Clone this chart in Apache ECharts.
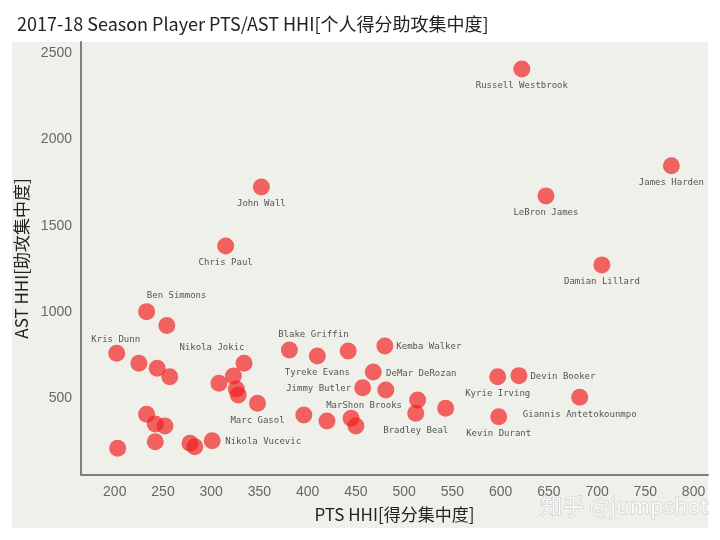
<!DOCTYPE html>
<html>
<head>
<meta charset="utf-8">
<script src="https://cdn.jsdelivr.net/npm/echarts@6/dist/echarts.min.js"></script>
<style>html,body{margin:0;padding:0;background:#fff;}#c{width:720px;height:540px;}</style>
</head>
<body>
<div id="c"></div>
<script>
// ---- data ----
var players = ['Russell Westbrook','James Harden','LeBron James','John Wall','Chris Paul','Damian Lillard',
  'Ben Simmons','','Kris Dunn','','','','Nikola Jokic','','','','','Marc Gasol','','','','','','','',
  'Nikola Vucevic','Blake Griffin','Tyreke Evans','','Kemba Walker','DeMar DeRozan','Jimmy Butler','','',
  'Bradley Beal','','','','MarShon Brooks','','Kyrie Irving','Devin Booker','Kevin Durant','Giannis Antetokounmpo'];
var ptsHHI = [622,777,647,352,315,705,
  233,254,202,225,244,257,334,323,308,326,328,348,233,242,252,242,203,278,283,
  301,381,410,442,480,468,457,481,514,
  512,543,396,420,445,450,597,619,598,682];
var astHHI = [2409,1847,1673,1725,1383,1273,
  1002,921,761,703,674,625,703,629,587,554,519,471,407,351,339,248,210,239,219,
  254,780,745,774,803,652,561,548,490,
  413,442,403,368,384,339,625,631,393,506];
var titleText = '2017-18 Season Player PTS/AST HHI[个人得分助攻集中度]';
var xName = 'PTS HHI[得分集中度]';
var yName = 'AST HHI[助攻集中度]';

// ---- label placement (style) ----
var labelOffset = {
  'Ben Simmons':[30,-16], 'Kris Dunn':[-1,-14], 'Nikola Jokic':[-32,-16], 'Nikola Vucevic':[51,1],
  'Blake Griffin':[24,-15], 'Jimmy Butler':[-44,1], 'MarShon Brooks':[13,-13], 'Kemba Walker':[44,1],
  'DeMar DeRozan':[48,2], 'Devin Booker':[44,1]
};

var data = players.map(function(n,i){
  return {
    name: n,
    value: [ptsHHI[i], astHHI[i]],
    label: { show: n !== '', offset: labelOffset[n] || [0,17] }
  };
});

var chart = echarts.init(document.getElementById('c'), null, {renderer:'canvas'});
chart.setOption({
  animation: false,
  backgroundColor: '#ffffff',
  graphic: [
    { type:'rect', z:-10, silent:true, shape:{x:12,y:42,width:696,height:486}, style:{fill:'#f0f0eb'} },
    { type:'text', z:100, silent:true, left:540, top:494,
      style:{ text:'知乎 @jumpshot', font:'22px "Noto Sans CJK SC"', fill:'rgba(255,255,255,0.85)', stroke:'#c4c4c4', lineWidth:1 } }
  ],
  title: {
    left: 12, top: 10,
    text: titleText,
    textStyle: { fontFamily:'"Noto Sans CJK SC"', fontSize:18, fontWeight:'normal', color:'#222' }
  },
  grid: { left:81, right:12, top:42, bottom:65, containLabel:false },
  xAxis: {
    type:'value', min:165, max:815, splitNumber:13,
    axisLine:{ show:true, lineStyle:{ color:'#7f7f7f', width:2 } },
    axisTick:{ show:false }, splitLine:{ show:false },
    axisLabel:{ color:'#666', fontSize:14, fontFamily:'"Liberation Sans"', margin:10, showMinLabel:false, showMaxLabel:false,
      formatter:function(v){ return String(v); } },
    name: xName, nameLocation:'middle', nameGap:31,
    nameTextStyle:{ color:'#222', fontSize:17, fontFamily:'"Noto Sans CJK SC"' }
  },
  yAxis: {
    type:'value', min:55, max:2565, splitNumber:5,
    axisLine:{ show:true, lineStyle:{ color:'#7f7f7f', width:2 } },
    axisTick:{ show:false }, splitLine:{ show:false },
    axisLabel:{ color:'#666', fontSize:14, fontFamily:'"Liberation Sans"', margin:9, showMinLabel:false, showMaxLabel:false,
      formatter:function(v){ return String(v); } },
    name: yName, nameLocation:'middle', nameGap:51, nameRotate:90,
    nameTextStyle:{ color:'#222', fontSize:17, fontFamily:'"Noto Sans CJK SC"' }
  },
  series: [{
    type:'scatter',
    symbol:'circle', symbolSize:17,
    itemStyle:{ color:'rgb(240,30,30)', opacity:0.68 },
    emphasis:{ disabled:true },
    label:{
      position:'inside', formatter:'{b}',
      fontFamily:'"DejaVu Sans Mono"', fontSize:9, color:'#000'
    },
    data: data
  }]
});
</script>
</body>
</html>
